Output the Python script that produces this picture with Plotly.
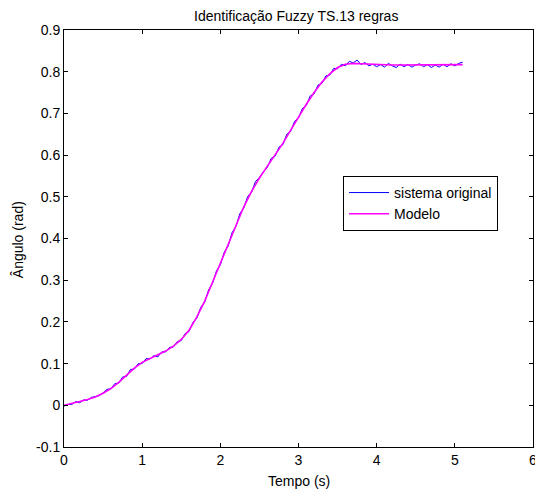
import plotly.graph_objects as go

# Model (smooth) sampled every 0.1 s
t_model = [0.0, 0.1, 0.2, 0.3, 0.4, 0.5, 0.6, 0.7, 0.8, 0.9,
           1.0, 1.1, 1.2, 1.3, 1.4, 1.5, 1.6, 1.7, 1.8, 1.9,
           2.0, 2.1, 2.2, 2.3, 2.4, 2.5, 2.6, 2.7, 2.8, 2.9,
           3.0, 3.1, 3.2, 3.3, 3.4, 3.5, 3.6, 3.7, 3.8, 3.9,
           4.0, 4.1, 4.2, 4.3, 4.4, 4.5, 4.6, 4.7, 4.8, 4.9,
           5.0, 5.1]
y_model = [0.000, 0.004, 0.009, 0.014, 0.020, 0.029, 0.040, 0.055, 0.072, 0.089,
           0.103, 0.113, 0.121, 0.130, 0.142, 0.158, 0.180, 0.212, 0.250, 0.295,
           0.340, 0.385, 0.432, 0.476, 0.513, 0.545, 0.573, 0.600, 0.628, 0.660,
           0.692, 0.722, 0.750, 0.775, 0.795, 0.810, 0.818, 0.820, 0.819, 0.818,
           0.817, 0.816, 0.816, 0.816, 0.816, 0.816, 0.816, 0.816, 0.816, 0.816,
           0.817, 0.817]

# Original system (noisy) sampled every 0.05 s
t_sys = [0.00, 0.05, 0.10, 0.15, 0.20, 0.25, 0.30, 0.35, 0.40, 0.45,
         0.50, 0.55, 0.60, 0.65, 0.70, 0.75, 0.80, 0.85, 0.90, 0.95,
         1.00, 1.05, 1.10, 1.15, 1.20, 1.25, 1.30, 1.35, 1.40, 1.45,
         1.50, 1.55, 1.60, 1.65, 1.70, 1.75, 1.80, 1.85, 1.90, 1.95,
         2.00, 2.05, 2.10, 2.15, 2.20, 2.25, 2.30, 2.35, 2.40, 2.45,
         2.50, 2.55, 2.60, 2.65, 2.70, 2.75, 2.80, 2.85, 2.90, 2.95,
         3.00, 3.05, 3.10, 3.15, 3.20, 3.25, 3.30, 3.35, 3.40, 3.45,
         3.50, 3.55, 3.60, 3.65, 3.70, 3.75, 3.80, 3.85, 3.90, 3.95,
         4.00, 4.05, 4.10, 4.15, 4.20, 4.25, 4.30, 4.35, 4.40, 4.45,
         4.50, 4.55, 4.60, 4.65, 4.70, 4.75, 4.80, 4.85, 4.90, 4.95,
         5.00, 5.05, 5.10]
y_sys = [-0.002, 0.002, 0.002, 0.009, 0.006, 0.013, 0.012, 0.019, 0.021, 0.023,
         0.030, 0.038, 0.040, 0.052, 0.053, 0.068, 0.069, 0.086, 0.087, 0.100,
         0.100, 0.112, 0.111, 0.119, 0.116, 0.128, 0.128, 0.139, 0.140, 0.153,
         0.155, 0.172, 0.177, 0.199, 0.209, 0.235, 0.247, 0.277, 0.292, 0.322,
         0.337, 0.367, 0.382, 0.414, 0.429, 0.460, 0.473, 0.501, 0.511, 0.537,
         0.546, 0.560, 0.570, 0.592, 0.597, 0.619, 0.625, 0.650, 0.657, 0.681,
         0.689, 0.712, 0.719, 0.742, 0.747, 0.768, 0.772, 0.790, 0.792, 0.808,
         0.807, 0.818, 0.814, 0.825, 0.821, 0.828, 0.817, 0.822, 0.814, 0.818,
         0.812, 0.817, 0.811, 0.820, 0.814, 0.810, 0.818, 0.812, 0.817, 0.811,
         0.816, 0.819, 0.812, 0.817, 0.810, 0.816, 0.811, 0.818, 0.812, 0.819,
         0.814, 0.820, 0.823]

x_ticks = [0, 1, 2, 3, 4, 5, 6]
y_ticks = [-0.1, 0, 0.1, 0.2, 0.3, 0.4, 0.5, 0.6, 0.7, 0.8, 0.9]
y_ticktext = ["-0.1", "0", "0.1", "0.2", "0.3", "0.4", "0.5", "0.6", "0.7", "0.8", "0.9"]

font = "Liberation Sans, Arial, sans-serif"
FS = 14

fig = go.Figure()
fig.add_trace(go.Scatter(x=t_sys, y=y_sys, mode="lines", name="sistema original",
                         line=dict(color="#0000FF", width=1)))
fig.add_trace(go.Scatter(x=t_model, y=y_model, mode="lines", name="Modelo",
                         line=dict(color="#FF00FF", width=1.6)))

axis_common = dict(showline=True, linecolor="black", linewidth=1, mirror="ticks",
                   ticks="inside", ticklen=4, tickcolor="black", showgrid=False,
                   zeroline=False, automargin=False,
                   tickfont=dict(family=font, size=FS, color="black"))

# The page body has an 8px default margin, so the figure is sized to fit the window.
fig.update_layout(
    width=535, height=484,
    margin=dict(l=56, r=10, t=22, b=45),
    paper_bgcolor="white", plot_bgcolor="white",
    xaxis=dict(range=[0, 6], tickvals=x_ticks, ticktext=[str(v) for v in x_ticks],
               **axis_common),
    yaxis=dict(range=[-0.1, 0.9], tickvals=y_ticks, ticktext=y_ticktext,
               **axis_common),
    legend=dict(x=0.595, y=0.65, xanchor="left", yanchor="top",
                bordercolor="black", borderwidth=1, bgcolor="white",
                font=dict(family=font, size=FS, color="black"),
                tracegroupgap=0, itemwidth=40),
    showlegend=True,
    annotations=[
        dict(text="Identificação Fuzzy TS.13 regras", xref="paper", yref="paper",
             x=0.494, y=1.0552, xanchor="center", yanchor="top", showarrow=False,
             borderpad=0, font=dict(family=font, size=FS, color="black")),
        dict(text="Tempo (s)", xref="paper", yref="paper", x=0.5, y=-0.0815,
             xanchor="center", yanchor="middle", showarrow=False,
             font=dict(family=font, size=FS, color="black")),
        dict(text="Ângulo (rad)", xref="paper", yref="paper", x=-0.098, y=0.496,
             xanchor="center", yanchor="middle", textangle=-90, showarrow=False,
             font=dict(family=font, size=FS, color="black")),
    ],
)

fig.write_html("out.html")
